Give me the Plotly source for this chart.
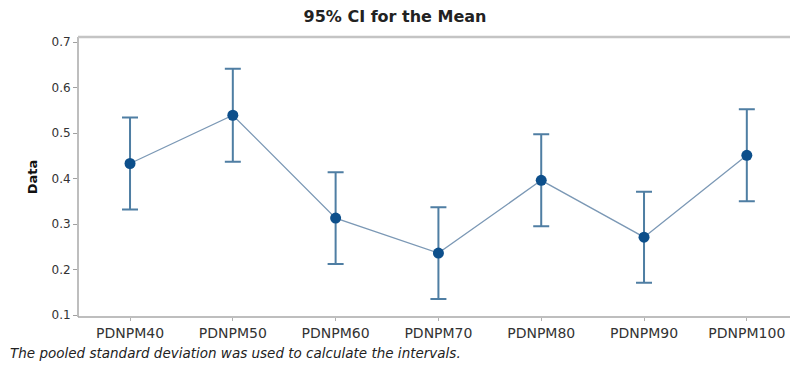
import plotly.graph_objects as go

# Group labels, means and the 95% CI half-width (pooled SD, so equal for all groups)
groups = ["PDNPM40", "PDNPM50", "PDNPM60", "PDNPM70", "PDNPM80", "PDNPM90", "PDNPM100"]
means = [0.433, 0.539, 0.313, 0.236, 0.396, 0.271, 0.451]
ci_half = [0.101, 0.102, 0.101, 0.101, 0.101, 0.100, 0.101]
y_ticks = [0.1, 0.2, 0.3, 0.4, 0.5, 0.6, 0.7]

xpos = list(range(len(groups)))

fig = go.Figure()

# connecting line between group means
fig.add_trace(go.Scatter(
    x=xpos, y=means, mode="lines",
    line=dict(color="#7b98b5", width=1.3),
    hoverinfo="skip", showlegend=False,
))

# means with confidence interval bars
fig.add_trace(go.Scatter(
    x=xpos, y=means, mode="markers",
    marker=dict(color="#0d4f8b", size=11),
    error_y=dict(type="data", array=ci_half, visible=True,
                 color="#4f7ea3", thickness=2, width=8),
    showlegend=False,
))

fig.update_layout(
    width=790, height=365,
    margin=dict(l=78, r=0, t=37, b=48),
    paper_bgcolor="white", plot_bgcolor="white",
    font=dict(family="DejaVu Sans", color="#333333"),
    title=dict(text="<b>95% CI for the Mean</b>", x=0.5, xanchor="center",
               y=0.956, yanchor="middle",
               font=dict(family="DejaVu Sans", size=16, color="#222222")),
    xaxis=dict(
        range=[-0.506, 6.42], tickvals=xpos, ticktext=groups,
        showgrid=False, zeroline=False, showline=False,
        ticks="outside", ticklen=3, tickcolor="#b0b0b0",
        tickfont=dict(size=14, color="#333333"),
    ),
    yaxis=dict(
        range=[0.0956, 0.711], tickvals=y_ticks,
        ticktext=[f"{v:.1f}" for v in y_ticks],
        showgrid=False, zeroline=False, showline=False,
        ticks="outside", ticklen=4, tickcolor="#a0a0a0",
        tickfont=dict(size=12, color="#333333"),
        title=dict(text="<b>Data</b>", standoff=10,
                   font=dict(size=13, color="#111111")),
    ),
)

# frame: left and bottom axis lines, light top border, open on the right
frame = [
    dict(x0=0, x1=0, y0=0, y1=1, color="#a8a8a8", width=1.5),
    dict(x0=0, x1=1, y0=0, y1=0, color="#a8a8a8", width=1.5),
    dict(x0=0, x1=1, y0=1, y1=1, color="#c4c4c4", width=2.5),
]
for f in frame:
    fig.add_shape(type="line", xref="paper", yref="paper",
                  x0=f["x0"], x1=f["x1"], y0=f["y0"], y1=f["y1"],
                  line=dict(color=f["color"], width=f["width"]))

fig.add_annotation(
    text="<i>The pooled standard deviation was used to calculate the intervals.</i>",
    xref="paper", yref="paper", x=-70 / 712, y=-36 / 280,
    xanchor="left", yanchor="middle", showarrow=False,
    font=dict(size=13.5, color="#222222"),
)

fig.write_html("out.html", config={"displayModeBar": False})
